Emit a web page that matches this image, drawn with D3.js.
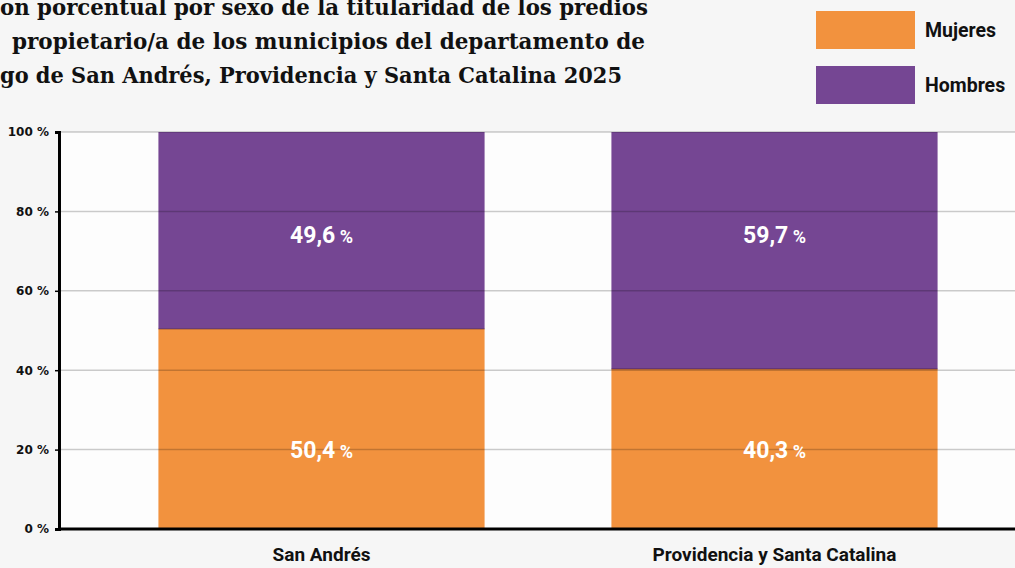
<!DOCTYPE html>
<html>
<head>
<meta charset="utf-8">
<script src="https://cdn.jsdelivr.net/npm/d3@7"></script>
<style>
  html, body { margin: 0; padding: 0; background: #f6f6f6; overflow: hidden; }
  svg { display: block; }
</style>
</head>
<body>
<svg id="chart" width="1015" height="568"></svg>
<script>
// data
const categories = ["San Andrés", "Providencia y Santa Catalina"];
const mujeres = [50.4, 40.3];
const hombres = [49.6, 59.7];
const seriesNames = ["Mujeres", "Hombres"];
const seriesColors = ["#f2923e", "#754693"];
const yTicks = [0, 20, 40, 60, 80, 100];
const titleLines = [
  "on porcentual por sexo de la titularidad de los predios",
  "propietario/a de los municipios del departamento de",
  "go de San Andrés, Providencia y Santa Catalina 2025"
];

const W = 1015, H = 568;
const margin = {top: 132, right: 0, bottom: 39, left: 59};
const sans = 'Roboto';

const svg = d3.select('#chart');

// table for the stack
const rows = categories.map((c, i) => ({cat: c, Mujeres: mujeres[i], Hombres: hombres[i]}));
const stacked = d3.stack().keys(seriesNames)(rows);

const x = d3.scaleBand()
  .domain(categories)
  .range([95, 1001])
  .paddingInner(0.28)
  .paddingOuter(0.14);

const y = d3.scaleLinear()
  .domain([0, 100])
  .range([H - margin.bottom, margin.top]);

const color = d3.scaleOrdinal().domain(seriesNames).range(seriesColors);

// plot background
svg.append('rect')
  .attr('x', margin.left).attr('y', margin.top)
  .attr('width', W - margin.left).attr('height', y(0) - margin.top)
  .attr('fill', '#fdfdfd');

// title (cut at the left edge, as in the original)
svg.append('g')
  .selectAll('text').data(titleLines).enter()
  .append('text')
  .attr('x', (d, i) => [648, 645, 622][i])
  .attr('y', (d, i) => 15 + i * 34)
  .attr('text-anchor', 'end')
  .attr('font-family', 'DejaVu Serif, serif')
  .attr('font-weight', 'bold')
  .attr('font-size', '22px')
  .attr('fill', '#111')
  .attr('textLength', (d, i) => [648, 633, 622][i])
  .attr('lengthAdjust', 'spacingAndGlyphs')
  .text(d => d);

// bars
const layer = svg.append('g')
  .selectAll('g').data(stacked).enter()
  .append('g')
  .attr('fill', d => color(d.key));

layer.selectAll('rect').data(d => d).enter()
  .append('rect')
  .attr('x', d => x(d.data.cat))
  .attr('y', d => y(d[1]))
  .attr('width', x.bandwidth())
  .attr('height', d => y(d[0]) - y(d[1]));

// thin seam between segments
svg.append('g')
  .selectAll('line').data(stacked[0]).enter()
  .append('line')
  .attr('x1', d => x(d.data.cat))
  .attr('x2', d => x(d.data.cat) + x.bandwidth())
  .attr('y1', d => y(d[1]))
  .attr('y2', d => y(d[1]))
  .attr('stroke', 'rgba(60,20,40,0.55)')
  .attr('stroke-width', 1);

// gridlines on top of the bars
svg.append('g')
  .selectAll('line').data(yTicks.filter(t => t > 0)).enter()
  .append('line')
  .attr('x1', margin.left)
  .attr('x2', W)
  .attr('y1', d => y(d))
  .attr('y2', d => y(d))
  .attr('stroke', 'rgba(0,0,0,0.2)')
  .attr('stroke-width', 1.5);

// value labels
const labelAt = {Mujeres: 20, Hombres: 74};
stacked.forEach(s => {
  const t = svg.append('g')
    .selectAll('text').data(s).enter()
    .append('text')
    .attr('x', d => x(d.data.cat) + x.bandwidth() / 2)
    .attr('y', y(labelAt[s.key]) + 8)
    .attr('text-anchor', 'middle')
    .attr('font-family', sans)
    .attr('font-weight', 'bold')
    .attr('font-size', '23px')
    .attr('fill', '#fff');
  t.append('tspan').text(d => d3.format('.1f')(d[1] - d[0]).replace('.', ','));
  t.append('tspan').attr('font-size', '18px').text(' %');
});

// y axis
const yAxis = g => g
  .attr('transform', `translate(${margin.left},0)`)
  .call(d3.axisLeft(y).tickValues(yTicks).tickSize(4).tickPadding(6).tickFormat(d => d + ' %'))
  .call(g => g.select('.domain').attr('stroke', '#000').attr('stroke-width', 3))
  .call(g => g.selectAll('.tick line').attr('stroke', '#000').attr('stroke-width', 1.5))
  .call(g => g.selectAll('.tick text')
    .attr('font-family', 'DejaVu Sans')
    .attr('font-weight', 'bold')
    .attr('font-size', '12px')
    .attr('fill', '#111'));

svg.append('g').call(yAxis);

// x axis
const xAxis = g => g
  .attr('transform', `translate(0,${y(0)})`)
  .call(d3.axisBottom(x).tickSize(0).tickPadding(19))
  .call(g => g.select('.domain').attr('d', `M${margin.left},0H${W}`).attr('stroke', '#000').attr('stroke-width', 3))
  .call(g => g.selectAll('.tick text')
    .attr('font-family', sans)
    .attr('font-weight', 'bold')
    .attr('font-size', '19px')
    .attr('fill', '#111'));

svg.append('g').call(xAxis);

// legend
const legend = svg.append('g')
  .selectAll('g').data(seriesNames).enter()
  .append('g')
  .attr('transform', (d, i) => `translate(816,${11 + i * 55})`);

legend.append('rect')
  .attr('width', 99).attr('height', 38)
  .attr('fill', d => color(d));

legend.append('text')
  .attr('x', 109).attr('y', 26)
  .attr('font-family', sans)
  .attr('font-weight', 'bold')
  .attr('font-size', '19.5px')
  .attr('fill', '#111')
  .text(d => d);
</script>
</body>
</html>
